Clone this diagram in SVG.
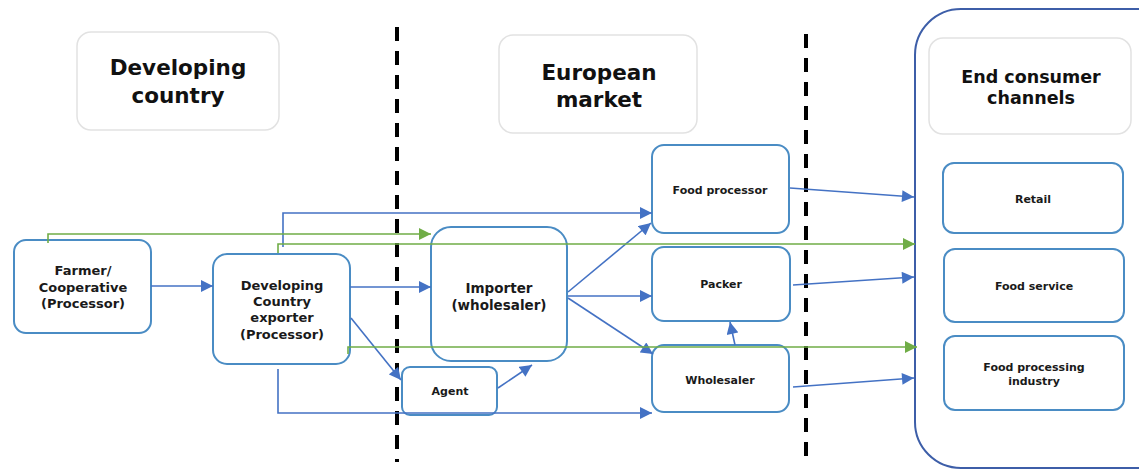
<svg xmlns="http://www.w3.org/2000/svg" width="1139" height="471" viewBox="0 0 1139 471">
<defs>
<style>
.hdr{fill:#fff;stroke:#e2e2e2;stroke-width:1.5}
.node{fill:#fff;stroke:#4a8cc4;stroke-width:2}
.ht{font-family:"DejaVu Sans",Verdana,sans-serif;font-weight:bold;font-size:21.5px;fill:#111;text-anchor:middle}
.ht2{font-family:"DejaVu Sans",Verdana,sans-serif;font-weight:bold;font-size:17.5px;fill:#111;text-anchor:middle}
.nt{font-family:"DejaVu Sans",Verdana,sans-serif;font-weight:bold;font-size:13px;fill:#1a1a1a;text-anchor:middle}
.st{font-family:"DejaVu Sans",Verdana,sans-serif;font-weight:bold;font-size:11px;fill:#1a1a1a;text-anchor:middle}
.dash{stroke:#000;stroke-width:4;stroke-dasharray:14 10;fill:none}
.b{stroke:#4472c4;stroke-width:1.6;fill:none;marker-end:url(#ab)}
.g{stroke:#70ad47;stroke-width:1.6;fill:none;marker-end:url(#ag)}
</style>
<marker id="ab" viewBox="0 0 10 10" refX="10" refY="5" markerWidth="13" markerHeight="12" markerUnits="userSpaceOnUse" orient="auto"><path d="M0,0 L10,5 L0,10 z" fill="#4472c4"/></marker>
<marker id="ag" viewBox="0 0 10 10" refX="10" refY="5" markerWidth="13" markerHeight="12" markerUnits="userSpaceOnUse" orient="auto"><path d="M0,0 L10,5 L0,10 z" fill="#70ad47"/></marker>
</defs>
<rect width="1139" height="471" fill="#fff"/>

<g id="section-dividers">
<line class="dash" x1="397" y1="27" x2="397" y2="462"/>
<line class="dash" x1="806" y1="34" x2="806" y2="465"/>
</g>

<g id="end-consumer-container">
<rect x="915" y="9" width="270" height="459" rx="46" fill="#fff" stroke="#3d5ea8" stroke-width="2"/>
</g>

<g id="hdr-developing">
<rect class="hdr" x="77" y="32" width="202" height="98" rx="14"/>
<text class="ht" x="178" y="75">Developing</text>
<text class="ht" x="178" y="103">country</text>
</g>
<g id="hdr-european">
<rect class="hdr" x="499" y="35" width="198" height="98" rx="14"/>
<text class="ht" x="599" y="80">European</text>
<text class="ht" x="599" y="107">market</text>
</g>
<g id="hdr-end">
<rect class="hdr" x="929" y="38" width="202" height="96" rx="14"/>
<text class="ht2" x="1031" y="83">End consumer</text>
<text class="ht2" x="1031" y="104">channels</text>
</g>

<g id="farmer">
<rect class="node" x="14" y="240" width="137" height="93" rx="12"/>
<text class="nt" x="83" y="275">Farmer/</text>
<text class="nt" x="83" y="292">Cooperative</text>
<text class="nt" x="83" y="308">(Processor)</text>
</g>
<g id="exporter">
<rect class="node" x="213" y="254" width="137" height="110" rx="14"/>
<text class="nt" x="282" y="290">Developing</text>
<text class="nt" x="282" y="306">Country</text>
<text class="nt" x="282" y="322">exporter</text>
<text class="nt" x="282" y="339">(Processor)</text>
</g>
<g id="importer">
<rect class="node" x="431" y="227" width="136" height="134" rx="20"/>
<text class="nt" x="499" y="293" style="font-size:13.5px">Importer</text>
<text class="nt" x="499" y="310" style="font-size:13.5px">(wholesaler)</text>
</g>
<g id="agent">
<rect class="node" x="402" y="367" width="95" height="48" rx="8"/>
<text class="st" x="450" y="395">Agent</text>
</g>
<g id="food-processor">
<rect class="node" x="652" y="145" width="137" height="88" rx="12"/>
<text class="st" x="720" y="194">Food processor</text>
</g>
<g id="packer">
<rect class="node" x="652" y="247" width="138" height="74" rx="12"/>
<text class="st" x="721" y="288">Packer</text>
</g>
<g id="wholesaler">
<rect class="node" x="652" y="345" width="137" height="67" rx="12"/>
<text class="st" x="720" y="384">Wholesaler</text>
</g>
<g id="retail">
<rect class="node" x="943" y="163" width="180" height="70" rx="11"/>
<text class="st" x="1033" y="203">Retail</text>
</g>
<g id="food-service">
<rect class="node" x="944" y="249" width="180" height="73" rx="11"/>
<text class="st" x="1034" y="290">Food service</text>
</g>
<g id="food-processing-industry">
<rect class="node" x="944" y="336" width="180" height="74" rx="11"/>
<text class="st" x="1034" y="371">Food processing</text>
<text class="st" x="1034" y="385">industry</text>
</g>

<g id="connectors">
<path class="b" d="M151,286 L213,286"/>
<path class="b" d="M350,287 L431,287"/>
<path class="b" d="M283,247 L283,213 L652,213"/>
<path class="b" d="M351,318 L401,380"/>
<path class="b" d="M278,369 L278,413 L652,413"/>
<path class="b" d="M498,388 L532,365"/>
<path class="b" d="M568,292 L651,223"/>
<path class="b" d="M568,296 L652,296"/>
<path class="b" d="M568,298 L653,354"/>
<path class="b" d="M735,345 L730,322"/>
<path class="b" d="M790,188 L914,197"/>
<path class="b" d="M793,285 L914,277"/>
<path class="b" d="M793,387 L914,378"/>
<path class="g" d="M48,243 L48,234 L431,234"/>
<path class="g" d="M278,253 L278,244 L915,244"/>
<path class="g" d="M348,354 L348,347 L917,347"/>
</g>
</svg>
